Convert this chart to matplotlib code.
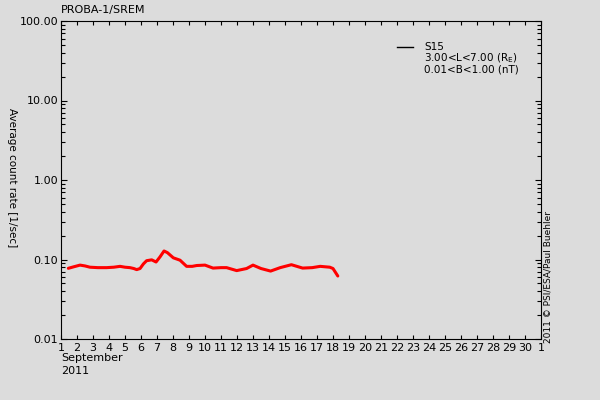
import matplotlib
matplotlib.use("Agg")
import matplotlib.pyplot as plt
from matplotlib.ticker import FixedLocator, LogLocator, NullFormatter

# Data: day of September 2011 (fractional) and average count rate [1/sec]
days = [1.46, 1.8, 2.19, 2.5, 2.81, 3.3, 3.85, 4.3, 4.69, 5.0, 5.31, 5.55, 5.73, 5.94,
        6.15, 6.35, 6.67, 6.94, 7.19, 7.44, 7.65, 8.02, 8.44, 8.85, 9.2, 9.48, 10.0,
        10.5, 11.0, 11.35, 11.98, 12.6, 13.0, 13.5, 14.1, 14.7, 15.4, 16.1, 16.7, 17.2,
        17.8, 18.0, 18.3]
rates = [0.0775, 0.081, 0.085, 0.083, 0.080, 0.079, 0.079, 0.080, 0.082, 0.080, 0.079,
         0.077, 0.0746, 0.077, 0.088, 0.0966, 0.099, 0.093, 0.108, 0.128, 0.122, 0.105,
         0.098, 0.082, 0.082, 0.084, 0.085, 0.078, 0.079, 0.079, 0.0725, 0.077, 0.085,
         0.077, 0.0715, 0.079, 0.086, 0.078, 0.079, 0.082, 0.080, 0.077, 0.062]

xtick_pos = list(range(1, 32))
xtick_labels = [str(d) for d in range(1, 31)] + ["1"]
ytick_pos = [0.01, 0.1, 1, 10, 100]
ytick_labels = ["0.01", "0.10", "1.00", "10.00", "100.00"]

bg = "#dcdcdc"
fig = plt.figure(figsize=(6, 4), dpi=100, facecolor=bg)
ax = fig.add_axes([61/600, 1 - 339/400, 480/600, 318/400], facecolor=bg)

ax.plot(days, rates, color="#ff0000", lw=2.2, solid_capstyle="round", solid_joinstyle="round")

ax.set_yscale("log")
ax.set_ylim(0.01, 100)
ax.set_xlim(1, 31)

ax.xaxis.set_major_locator(FixedLocator(xtick_pos))
ax.set_xticklabels(xtick_labels)
ax.yaxis.set_major_locator(FixedLocator(ytick_pos))
ax.set_yticklabels(ytick_labels)
ax.yaxis.set_minor_locator(LogLocator(base=10, subs=range(2, 10)))
ax.yaxis.set_minor_formatter(NullFormatter())

ax.tick_params(which="both", direction="in", top=True, right=True, color="black",
               labelsize=8, width=0.8)
ax.tick_params(axis="x", which="major", length=2.8, pad=3)
ax.tick_params(axis="y", which="major", length=4.5, pad=2)
ax.tick_params(axis="y", which="minor", length=3)
for s in ax.spines.values():
    s.set_color("black")
    s.set_linewidth(0.8)

fig.text(61/600, 1 - 10/400, "PROBA-1/SREM", fontsize=8, va="center", ha="left")
fig.text(12/600, 1 - 178/400, "Average count rate [1/sec]", fontsize=7.5, rotation=-90,
         va="center", ha="center")
fig.text(548/600, 1 - 277/400, "2011 \u00a9 PSI/ESA/Paul Buehler", fontsize=6.5,
         rotation=90, va="center", ha="center")
fig.text(61/600, 1 - 358/400, "September", fontsize=8, va="center", ha="left")
fig.text(61/600, 1 - 371/400, "2011", fontsize=8, va="center", ha="left")

# legend
fig.add_artist(plt.Line2D([397/600, 413/600], [1 - 47/400, 1 - 47/400], color="black", lw=1))
fig.text(424/600, 1 - 42/400,
         "S15\n3.00<L<7.00 (R$_\\mathregular{E}$)\n0.01<B<1.00 (nT)",
         fontsize=7.5, va="top", ha="left", linespacing=0.95)

fig.savefig("out.png", dpi=100, facecolor=bg)
